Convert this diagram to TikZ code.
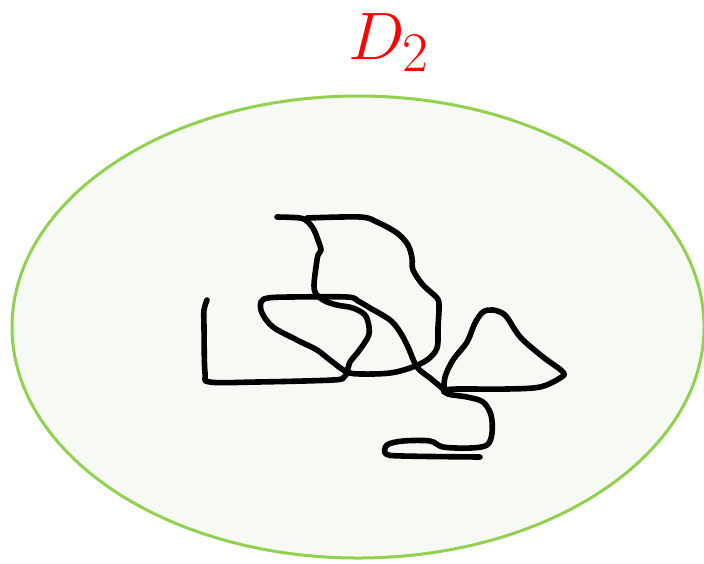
\documentclass[tikz,border=0pt]{standalone}
\usepackage{tikz}
\usetikzlibrary{positioning}
\usepackage{xcolor}
\definecolor{leaf}{HTML}{92D050}
\definecolor{paleleaf}{HTML}{F7F9F4}
\tikzset{
  region/.style={draw=leaf, line width=1.5pt, fill=paleleaf},
  scrib/.style={black, line width=2.8pt, line cap=round, line join=round},
  lbl/.style={text=red, font=\fontsize{24.88}{30}\selectfont, scale=1.35, inner sep=0pt}
}
\begin{document}
\begin{tikzpicture}[x=0.5pt, y=-0.5pt]
  \useasboundingbox (0,0) rectangle (704,563);
  % domain
  \draw[region] (358,327) ellipse [x radius=346, y radius=231];
  \node[lbl, anchor=base] (dname) at (389,59) {$D_2$};
  % left hook, under the loop, up and over to the top end
  \draw[scrib] plot[smooth, tension=0.55] coordinates {
    (207,300) (204,310) (204,327) (205,373) (210,382) (257,382) (333,380)
    (344,377) (347,372) (350,362) (358,352) (368,337) (369,327) (365,315)
    (353,308) (337,305) (325,301) (316,294) (314,285) (316,267) (318,255)
    (321,250) (318,240) (314,230) (308,222) (300,218) (277,217)};
  % top bar, right lobe, loop and the tail
  \draw[scrib] plot[smooth, tension=0.55] coordinates {
    (307,218) (360,217) (377,222) (397,233) (408,245) (412,258) (413,270)
    (423,285) (437,298) (439,307) (438,327) (437,348) (427,360) (410,368)
    (390,373) (363,374) (347,372) (330,360) (317,350) (297,340) (273,327)
    (262,313) (261,302) (268,298) (290,297) (347,297) (358,301) (370,308)
    (390,320) (400,332) (408,347) (417,367) (430,378) (442,388) (448,394)
    (467,397) (483,402) (491,415) (492,433) (487,445) (470,448) (443,447)
    (430,441) (403,441) (387,445) (386,454) (403,456) (480,457)};
  % peak
  \draw[scrib] plot[smooth, tension=0.55] coordinates {
    (444,392) (445,377) (453,360) (467,342) (475,323) (483,312) (493,310)
    (505,315) (515,330) (523,340) (543,357) (563,372) (560,378) (540,387)
    (507,389) (457,389) (445,390)};
\end{tikzpicture}
\end{document}
